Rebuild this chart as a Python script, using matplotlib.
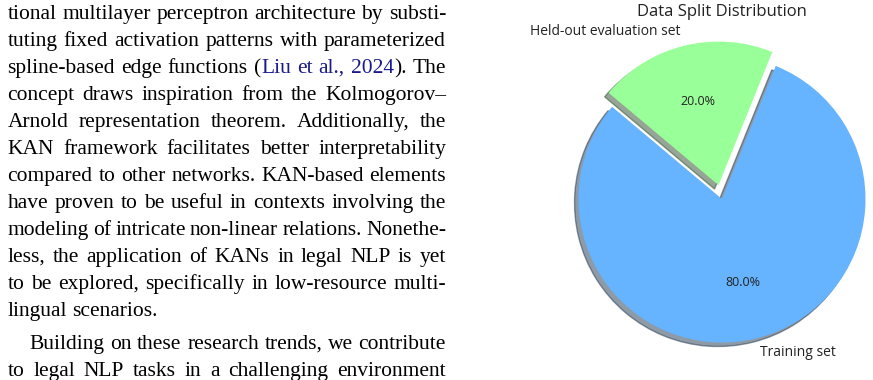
import matplotlib
matplotlib.use("Agg")
import matplotlib.pyplot as plt

# pie data
labels = ["Training set", "Held-out evaluation set"]
sizes = [80, 20]
colors = ["#66b3ff", "#99ff99"]
explode = (0, 0.1)

# paper text on the left (one entry per printed line, blue = citation)
BLUE = "#1a1a8c"
lines = [
    "tional multilayer perceptron architecture by substi-",
    "tuting fixed activation patterns with parameterized",
    [("spline-based", "k"), ("edge", "k"), ("functions", "k"),
     [("(", "k"), ("Liu", BLUE)], ("et", BLUE), ("al.,", BLUE),
     [("2024", BLUE), (").", "k")], ("The", "k")],
    "concept draws inspiration from the Kolmogorov\u2013",
    "Arnold representation theorem. Additionally, the",
    "KAN framework facilitates better interpretability",
    "compared to other networks. KAN-based elements",
    "have proven to be useful in contexts involving the",
    "modeling of intricate non-linear relations. Nonethe-",
    "less, the application of KANs in legal NLP is yet",
    "to be explored, specifically in low-resource multi-",
    "lingual scenarios.",
    "Building on these research trends, we contribute",
    "to legal NLP tasks in a challenging environment",
]
baselines = [19 + 27 * i for i in range(12)] + [349, 376]
justified = [True] * 11 + [False, True, True]
indent = [0] * 12 + [22, 0]

W, H = 873, 380
fig = plt.figure(figsize=(W / 100, H / 100), dpi=100)
renderer = fig.canvas.get_renderer()

serif = dict(family="Liberation Serif", fontsize=15.5)
left, right = 7.5, 446

for line, base, just, ind in zip(lines, baselines, justified, indent):
    if isinstance(line, str):
        words = [[(w, "k")] for w in line.split()]
    else:
        words = [w if isinstance(w, list) else [w] for w in line]
    # draw every segment, measure, then place
    objs = []
    for word in words:
        segs = []
        for txt, col in word:
            t = fig.text(0, 1 - base / H, txt, color=col, va="baseline", **serif)
            segs.append((t, t.get_window_extent(renderer).width))
        objs.append(segs)
    widths = [sum(w for _, w in segs) for segs in objs]
    x0 = left + ind
    if just and len(objs) > 1:
        gap = (right - x0 - sum(widths)) / (len(objs) - 1)
    else:
        gap = 5.3
    x = x0
    for segs, ww in zip(objs, widths):
        xs = x
        for t, w in segs:
            t.set_x(xs / W)
            xs += w
        x += ww + gap

# pie chart
R = 143.5
cx, cy = 722, H - 199
side = 2.5 * R
ax = fig.add_axes([(cx - side / 2) / W, (cy - side / 2) / H, side / W, side / H])
wedges, texts, autotexts = ax.pie(
    sizes, explode=explode, labels=labels, colors=colors,
    autopct="%1.1f%%", shadow=True, startangle=140,
    textprops=dict(family="Open Sans", fontsize=10, color="#222222"),
)
for t in autotexts:
    t.set_fontsize(9)
ax.set_title("Data Split Distribution", family="Open Sans", fontsize=12,
             color="#222222", pad=-1)
ax.set_aspect("equal")
ax.set_xlim(-1.25, 1.25)
ax.set_ylim(-1.25, 1.25)

fig.savefig("out.png", dpi=100)
